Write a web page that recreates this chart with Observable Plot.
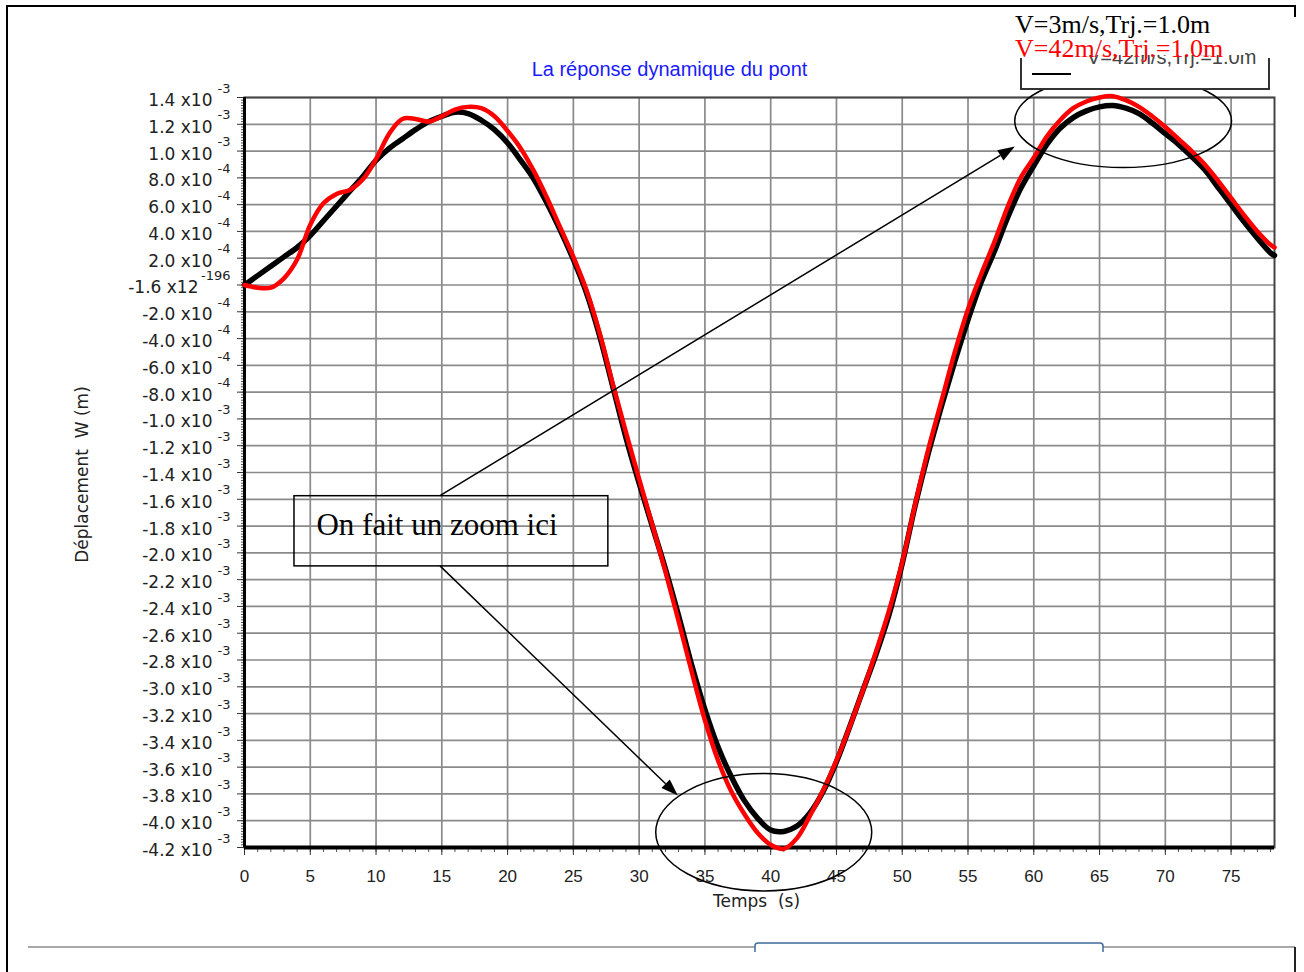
<!DOCTYPE html>
<html><head><meta charset="utf-8">
<script src="https://cdn.jsdelivr.net/npm/d3@7"></script>
<script src="https://cdn.jsdelivr.net/npm/@observablehq/plot@0.6"></script>
<style>
body{margin:0;background:#fff;}
#wrap{position:relative;width:1304px;height:972px;overflow:hidden;background:#fff;}
#wrap svg{position:absolute;left:0;top:0;}
</style></head><body><div id="wrap"></div>
<script>
// ---- data (time in s, displacement in units of 1e-3 m) ----
const time = [0,1,2,3,4,5,6,7,8,9,10,11,12,13,14,15,16,17,18,19,20,21,22,23,24,25,26,27,28,29,30,31,32,33,34,35,36,37,38,39,40,41,42,43,44,45,46,47,48,49,50,51,52,53,54,55,56,57,58,59,60,61,62,63,64,65,66,67,68,69,70,71,72,73,74,75,76,77,78,78.3];
const dispV3 = [0,0.07,0.14,0.21,0.28,0.37,0.48,0.59,0.7,0.81,0.93,1.02,1.09,1.16,1.22,1.26,1.29,1.28,1.23,1.16,1.06,0.93,0.79,0.61,0.41,0.19,-0.06,-0.38,-0.76,-1.14,-1.48,-1.8,-2.12,-2.47,-2.84,-3.17,-3.45,-3.67,-3.85,-3.98,-4.07,-4.08,-4.04,-3.94,-3.78,-3.56,-3.3,-3.03,-2.76,-2.46,-2.08,-1.64,-1.25,-0.9,-0.57,-0.26,0.02,0.25,0.5,0.72,0.89,1.05,1.17,1.25,1.3,1.33,1.34,1.32,1.28,1.21,1.13,1.05,0.96,0.86,0.73,0.6,0.47,0.35,0.24,0.22];
const dispV42 = [0,-0.02,-0.02,0.05,0.19,0.45,0.61,0.68,0.71,0.79,0.94,1.13,1.24,1.24,1.22,1.26,1.31,1.33,1.32,1.26,1.15,1.02,0.85,0.65,0.43,0.21,-0.04,-0.36,-0.74,-1.1,-1.45,-1.79,-2.14,-2.51,-2.89,-3.25,-3.55,-3.78,-3.95,-4.09,-4.18,-4.21,-4.13,-3.96,-3.77,-3.55,-3.3,-3.03,-2.74,-2.43,-2.07,-1.63,-1.22,-0.86,-0.5,-0.18,0.08,0.32,0.58,0.8,0.95,1.11,1.23,1.32,1.37,1.4,1.41,1.38,1.33,1.26,1.18,1.09,1.0,0.9,0.78,0.65,0.52,0.4,0.3,0.28];
const seriesNames = ["V=3m/s,Trj.=1.0m", "V=42m/s,Trj.=1.0m"];

const xTickValues = [0,5,10,15,20,25,30,35,40,45,50,55,60,65,70,75];
const yTickValues = [1.4,1.2,1.0,0.8,0.6,0.4,0.2,0,-0.2,-0.4,-0.6,-0.8,-1.0,-1.2,-1.4,-1.6,-1.8,-2.0,-2.2,-2.4,-2.6,-2.8,-3.0,-3.2,-3.4,-3.6,-3.8,-4.0,-4.2];
const yTickMantissa = ["1.4","1.2","1.0","8.0","6.0","4.0","2.0","-1.6","-2.0","-4.0","-6.0","-8.0","-1.0","-1.2","-1.4","-1.6","-1.8","-2.0","-2.2","-2.4","-2.6","-2.8","-3.0","-3.2","-3.4","-3.6","-3.8","-4.0","-4.2"];
const yTickBase = yTickValues.map(v => v === 0 ? "x12" : "x10");
const yTickExp = ["-3","-3","-3","-4","-4","-4","-4","-196","-4","-4","-4","-4","-3","-3","-3","-3","-3","-3","-3","-3","-3","-3","-3","-3","-3","-3","-3","-3","-3"];

const titleText = "La réponse dynamique du pont";
const xLabel = "Temps  (s)";
const yLabel = "Déplacement  W (m)";

// annotations (data coordinates)
const noteText = "On fait un zoom ici";
const noteBoxT = [3.8, 27.66], noteBoxW = [-1.577, -2.101];
const noteTextT = 5.47, noteTextW = -1.87;
const ellipseT = [66.83, 39.51], ellipseW = [1.221, -4.09], ellipseRT = [8.24, 8.21], ellipseRW = [0.348, 0.438];
const arrowFromT = [14.9, 14.9], arrowFromW = [-1.577, -2.101], arrowToT = [58.6, 32.98], arrowToW = [1.03, -3.816];

// ---- build tables ----
const rowsV3 = time.map((t, i) => ({t, w: dispV3[i]}));
const rowsV42 = time.map((t, i) => ({t, w: dispV42[i]}));
const yTicks = yTickValues.map((v, i) => ({v, label: yTickMantissa[i] + " " + yTickBase[i], exp: yTickExp[i]}));
const xMinor = d3.range(0, 79, 1);
const yMinor = d3.range(-4.2, 1.4001, 0.02);

const tickFont = "'DejaVu Sans', Verdana, sans-serif";
const sansFont = "'Liberation Sans', Arial, sans-serif";
const serifFont = "'Liberation Serif', 'Times New Roman', serif";

const plot = Plot.plot({
  width: 1304, height: 972,
  marginLeft: 244, marginRight: 30, marginTop: 97, marginBottom: 125,
  x: {domain: [0, 78.3]},
  y: {domain: [-4.2, 1.4]},
  style: {fontFamily: sansFont, fontSize: "16px", color: "#222", background: "transparent", overflow: "visible"},
  marks: [
    Plot.gridX(xTickValues, {stroke: "#8a8a8a", strokeOpacity: 1, strokeWidth: 1.7}),
    Plot.gridY(yTickValues, {stroke: "#8a8a8a", strokeOpacity: 1, strokeWidth: 1.7}),
    Plot.frame({stroke: "#444", strokeWidth: 2}),
    Plot.axisX(xMinor, {tickSize: 5, tickFormat: () => "", label: null, stroke: "#555"}),
    Plot.axisX(xTickValues, {tickSize: 8, tickFormat: () => "", label: null, stroke: "#333"}),
    Plot.axisY(yMinor, {tickSize: 3, tickFormat: () => "", label: null, stroke: "#555"}),
    Plot.axisY(yTickValues, {tickSize: 7, tickFormat: () => "", label: null, stroke: "#333"}),
    Plot.ruleX([0], {stroke: "black", strokeWidth: 3}),
    Plot.ruleY([-4.2], {stroke: "black", strokeWidth: 4}),
    // x tick labels
    Plot.text(xTickValues, {x: d => d, text: d => String(d), frameAnchor: "bottom", dy: 29, lineAnchor: "middle", fontFamily: sansFont, fontSize: 17, fill: "#222"}),
    // y tick labels (mantissa and raised exponent)
    Plot.text(yTicks.filter(d => d.exp.length <= 2), {y: "v", text: "label", frameAnchor: "left", textAnchor: "end", dx: -32, dy: 3, lineAnchor: "middle", fontFamily: tickFont, fontSize: 17, fill: "#222"}),
    Plot.text(yTicks.filter(d => d.exp.length > 2), {y: "v", text: "label", frameAnchor: "left", textAnchor: "end", dx: -46, dy: 3, lineAnchor: "middle", fontFamily: tickFont, fontSize: 17, fill: "#222"}),
    Plot.text(yTicks, {y: "v", text: "exp", frameAnchor: "left", textAnchor: "end", dx: -14, dy: -9, lineAnchor: "middle", fontFamily: tickFont, fontSize: 13, fill: "#222"}),
    // title and axis labels
    Plot.text([titleText], {frameAnchor: "top", dx: -90, dy: -28, lineAnchor: "middle", fill: "#1a1aff", fontFamily: sansFont, fontSize: 20}),
    Plot.text([xLabel], {frameAnchor: "bottom", dx: -3, dy: 54, lineAnchor: "middle", textAnchor: "middle", fill: "#222", fontFamily: tickFont, fontSize: 17}),
    Plot.text([yLabel], {frameAnchor: "left", dx: -162, dy: 2, rotate: -90, lineAnchor: "middle", textAnchor: "middle", fill: "#222", fontFamily: tickFont, fontSize: 17}),
    // series
    Plot.line(rowsV3, {x: "t", y: "w", stroke: "black", strokeWidth: 5.5, curve: "catmull-rom", strokeLinejoin: "round"}),
    Plot.line(rowsV42, {x: "t", y: "w", stroke: "#ff0000", strokeWidth: 4.5, curve: "catmull-rom", strokeLinejoin: "round"}),
    // annotation box
    Plot.rect([{x1: noteBoxT[0], x2: noteBoxT[1], y1: noteBoxW[0], y2: noteBoxW[1]}], {x1: "x1", x2: "x2", y1: "y1", y2: "y2", fill: "none", stroke: "black", strokeWidth: 1.5}),
    Plot.text([noteText], {x: noteTextT, y: noteTextW, textAnchor: "start", lineAnchor: "bottom", fontFamily: serifFont, fontSize: 31, fill: "black"})
  ]
});

const wrap = document.getElementById("wrap");
wrap.appendChild(plot);

// ellipses and arrows placed through the plot's scales
const sx = plot.scale("x"), sy = plot.scale("y");
const svg = d3.select(plot);
const g = svg.append("g");
ellipseT.forEach((t, i) => {
  const cx = sx.apply(t), cy = sy.apply(ellipseW[i]);
  g.append("ellipse").attr("cx", cx).attr("cy", cy)
    .attr("rx", Math.abs(sx.apply(t + ellipseRT[i]) - cx))
    .attr("ry", Math.abs(sy.apply(ellipseW[i] + ellipseRW[i]) - cy))
    .attr("fill", "none").attr("stroke", "black").attr("stroke-width", 1.5);
});
arrowFromT.forEach((t, i) => {
  const x1 = sx.apply(t), y1 = sy.apply(arrowFromW[i]);
  const x2 = sx.apply(arrowToT[i]), y2 = sy.apply(arrowToW[i]);
  const dx = x2 - x1, dy = y2 - y1, L = Math.hypot(dx, dy);
  const ux = dx / L, uy = dy / L, hl = 17, hw = 6;
  const bx = x2 - ux * hl, by = y2 - uy * hl;
  g.append("line").attr("x1", x1).attr("y1", y1).attr("x2", bx).attr("y2", by)
    .attr("stroke", "black").attr("stroke-width", 1.5);
  g.append("path").attr("d", `M${x2},${y2}L${bx - uy * hw},${by + ux * hw}L${bx + uy * hw},${by - ux * hw}Z`)
    .attr("fill", "black");
});

// page decoration + legend overlay
const deco = d3.select(wrap).append("svg").attr("width", 1304).attr("height", 972);
deco.append("path").attr("d", "M7,972V6H1295V17").attr("fill", "none").attr("stroke", "black").attr("stroke-width", 2);
deco.append("line").attr("x1", 28).attr("y1", 947).attr("x2", 1295).attr("y2", 947).attr("stroke", "#a8a8a8").attr("stroke-width", 2);
deco.append("line").attr("x1", 1295).attr("y1", 947).attr("x2", 1295).attr("y2", 972).attr("stroke", "#222").attr("stroke-width", 2);
deco.append("path").attr("d", "M755,952V946Q755,943 758,943H1100Q1103,943 1103,946V952").attr("fill", "white").attr("stroke", "#3f6a9c").attr("stroke-width", 1.5);
// legend
deco.append("path").attr("d", "M1021,58V89H1269V58").attr("fill", "white").attr("stroke", "#333").attr("stroke-width", 2);
deco.append("text").attr("x", 1087).attr("y", 64).attr("font-family", sansFont).attr("font-size", 20).attr("fill", "#444").text(seriesNames[1]);
deco.append("line").attr("x1", 1032).attr("x2", 1071).attr("y1", 74).attr("y2", 74).attr("stroke", "black").attr("stroke-width", 2);
deco.append("rect").attr("x", 1009).attr("y", 9).attr("width", 236).attr("height", 46).attr("fill", "white");
deco.append("text").attr("x", 1015).attr("y", 33).attr("font-family", serifFont).attr("font-size", 26).attr("fill", "black").text(seriesNames[0]);
deco.append("text").attr("x", 1015).attr("y", 57).attr("font-family", serifFont).attr("font-size", 26).attr("fill", "red").text(seriesNames[1]);
</script></body></html>
